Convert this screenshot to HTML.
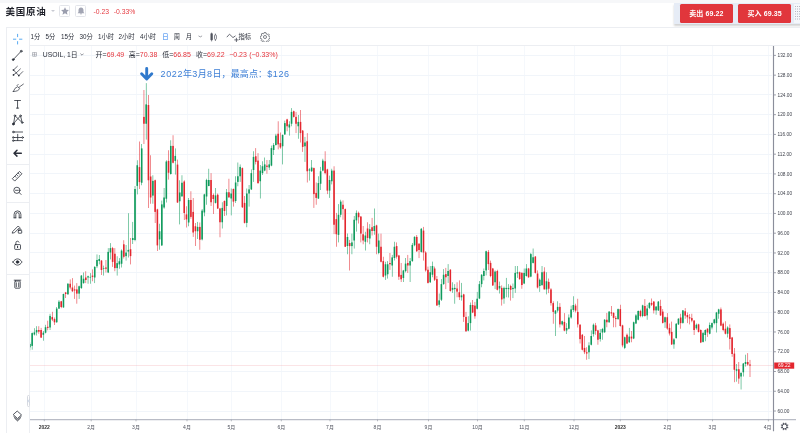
<!DOCTYPE html>
<html lang="zh-CN">
<head>
<meta charset="utf-8">
<title>美国原油</title>
<style>
*{box-sizing:border-box;margin:0;padding:0}
html,body{width:800px;height:433px;overflow:hidden;background:#fff}
body{position:relative;font-family:"Liberation Sans","Noto Sans CJK SC",sans-serif;color:#131722}
.abs{position:absolute}
.chart{position:absolute;left:0;top:0}
.topband{left:0;top:0;width:800px;height:2.8px;background:#f6f7f9}
.title{left:5.4px;top:5.3px;font-size:9.5px;line-height:14px;font-weight:bold;color:#1e2029;letter-spacing:0.75px}
.caret{left:50.9px;top:10.4px;width:0;height:0;border-left:2.9px solid transparent;border-right:2.9px solid transparent;border-top:2.6px solid #c9cbd3}
.sq{width:11.3px;height:12px;top:5.2px;border:0.8px solid #e3e5ea;border-radius:1.5px;background:#fff}
.chg{top:7px;font-size:6.8px;line-height:10px;color:#e53a40}
.frame-top{left:5.5px;top:27px;width:794.5px;height:1px;background:#eceef2}
.frame-left{left:5.5px;top:27px;width:1px;height:406px;background:#eceef2}
.lt-right{left:29px;top:27px;width:1px;height:406px;background:#eceef2}
.row-sep{left:29px;top:44.6px;width:771px;height:1px;background:#eceef2}
.iv{top:32.2px;font-size:6.3px;line-height:9px;color:#2a2e39}
.legend{top:49.5px;font-size:6.8px;line-height:9px;color:#2a2e39}
.red{color:#e5343b}
.lg{font-size:7px}
.panel{left:674.4px;top:2.8px;width:140px;height:21.7px;background:#e6ecf6;box-shadow:0 1.5px 2px rgba(0,0,0,0.18)}
.btn{top:4.2px;height:18.4px;background:#e1363c;border-radius:1.5px;color:#fff;font-size:7px;font-weight:bold;line-height:19.4px;text-align:center;letter-spacing:0.1px}
.grip{left:793.5px;top:4px;width:7px;height:19px;background:#f5f7fb}
.sep{left:6px;width:23px;height:1px;background:#eceef2}
</style>
</head>
<body>
<svg class="chart" width="800" height="433" viewBox="0 0 800 433"><g stroke="#f5f8fc" stroke-width="1" shape-rendering="crispEdges"><line x1="44.3" y1="45.5" x2="44.3" y2="419.5"/><line x1="91.2" y1="45.5" x2="91.2" y2="419.5"/><line x1="136.0" y1="45.5" x2="136.0" y2="419.5"/><line x1="187.0" y1="45.5" x2="187.0" y2="419.5"/><line x1="231.3" y1="45.5" x2="231.3" y2="419.5"/><line x1="281.3" y1="45.5" x2="281.3" y2="419.5"/><line x1="330.0" y1="45.5" x2="330.0" y2="419.5"/><line x1="377.5" y1="45.5" x2="377.5" y2="419.5"/><line x1="428.5" y1="45.5" x2="428.5" y2="419.5"/><line x1="477.5" y1="45.5" x2="477.5" y2="419.5"/><line x1="524.3" y1="45.5" x2="524.3" y2="419.5"/><line x1="574.0" y1="45.5" x2="574.0" y2="419.5"/><line x1="620.3" y1="45.5" x2="620.3" y2="419.5"/><line x1="667.5" y1="45.5" x2="667.5" y2="419.5"/><line x1="712.5" y1="45.5" x2="712.5" y2="419.5"/><line x1="768.4" y1="45.5" x2="768.4" y2="419.5"/></g><g stroke="#f1f5fa" stroke-width="1" shape-rendering="crispEdges"><line x1="29.5" y1="55.40" x2="772.0" y2="55.40"/><line x1="29.5" y1="75.16" x2="772.0" y2="75.16"/><line x1="29.5" y1="94.91" x2="772.0" y2="94.91"/><line x1="29.5" y1="114.67" x2="772.0" y2="114.67"/><line x1="29.5" y1="134.42" x2="772.0" y2="134.42"/><line x1="29.5" y1="154.18" x2="772.0" y2="154.18"/><line x1="29.5" y1="173.94" x2="772.0" y2="173.94"/><line x1="29.5" y1="193.69" x2="772.0" y2="193.69"/><line x1="29.5" y1="213.45" x2="772.0" y2="213.45"/><line x1="29.5" y1="233.20" x2="772.0" y2="233.20"/><line x1="29.5" y1="252.96" x2="772.0" y2="252.96"/><line x1="29.5" y1="272.72" x2="772.0" y2="272.72"/><line x1="29.5" y1="292.47" x2="772.0" y2="292.47"/><line x1="29.5" y1="312.23" x2="772.0" y2="312.23"/><line x1="29.5" y1="331.98" x2="772.0" y2="331.98"/><line x1="29.5" y1="351.74" x2="772.0" y2="351.74"/><line x1="29.5" y1="371.50" x2="772.0" y2="371.50"/><line x1="29.5" y1="391.25" x2="772.0" y2="391.25"/><line x1="29.5" y1="411.01" x2="772.0" y2="411.01"/></g><line x1="29.5" y1="365.5" x2="773.5" y2="365.5" stroke="#f08a90" stroke-width="0.6" stroke-dasharray="1 1" opacity="0.75"/><g fill="#0f9a5c" opacity="0.95"><rect x="29.62" y="342.40" width="0.56" height="8.00"/><rect x="31.86" y="332.40" width="0.56" height="17.30"/><rect x="34.09" y="328.20" width="0.56" height="7.30"/><rect x="36.33" y="326.20" width="0.56" height="9.30"/><rect x="43.04" y="331.00" width="0.56" height="9.70"/><rect x="45.27" y="324.80" width="0.56" height="8.60"/><rect x="49.75" y="313.80" width="0.56" height="16.20"/><rect x="56.46" y="307.00" width="0.56" height="15.70"/><rect x="58.69" y="300.10" width="0.56" height="8.90"/><rect x="63.17" y="293.60" width="0.56" height="14.20"/><rect x="67.64" y="283.10" width="0.56" height="11.30"/><rect x="78.82" y="285.60" width="0.56" height="13.30"/><rect x="81.06" y="275.00" width="0.56" height="13.75"/><rect x="83.29" y="272.50" width="0.56" height="11.25"/><rect x="87.76" y="275.60" width="0.56" height="8.15"/><rect x="90.00" y="273.10" width="0.56" height="10.65"/><rect x="94.47" y="266.25" width="0.56" height="16.85"/><rect x="96.71" y="254.40" width="0.56" height="13.70"/><rect x="98.95" y="255.00" width="0.56" height="9.40"/><rect x="103.42" y="265.60" width="0.56" height="10.00"/><rect x="107.89" y="248.10" width="0.56" height="25.00"/><rect x="110.13" y="243.10" width="0.56" height="16.30"/><rect x="116.84" y="256.25" width="0.56" height="19.35"/><rect x="119.07" y="258.10" width="0.56" height="10.65"/><rect x="121.31" y="249.40" width="0.56" height="18.10"/><rect x="125.78" y="245.00" width="0.56" height="15.60"/><rect x="128.02" y="213.20" width="0.56" height="44.30"/><rect x="132.49" y="221.90" width="0.56" height="22.10"/><rect x="134.73" y="186.00" width="0.56" height="55.25"/><rect x="136.96" y="160.25" width="0.56" height="34.15"/><rect x="141.44" y="144.00" width="0.56" height="41.25"/><rect x="145.91" y="83.10" width="0.56" height="56.50"/><rect x="152.62" y="175.25" width="0.56" height="28.50"/><rect x="159.33" y="223.75" width="0.56" height="26.00"/><rect x="161.56" y="200.60" width="0.56" height="45.40"/><rect x="163.80" y="188.00" width="0.56" height="20.75"/><rect x="166.04" y="160.25" width="0.56" height="42.25"/><rect x="170.51" y="140.25" width="0.56" height="34.35"/><rect x="174.98" y="148.40" width="0.56" height="26.20"/><rect x="179.45" y="180.25" width="0.56" height="44.15"/><rect x="181.69" y="175.25" width="0.56" height="21.75"/><rect x="188.40" y="198.00" width="0.56" height="28.25"/><rect x="197.35" y="221.90" width="0.56" height="17.10"/><rect x="201.82" y="209.00" width="0.56" height="31.40"/><rect x="204.05" y="193.75" width="0.56" height="22.50"/><rect x="206.29" y="178.75" width="0.56" height="26.00"/><rect x="208.53" y="168.75" width="0.56" height="17.50"/><rect x="215.24" y="188.00" width="0.56" height="15.50"/><rect x="221.94" y="202.25" width="0.56" height="26.25"/><rect x="226.42" y="189.00" width="0.56" height="26.40"/><rect x="230.89" y="188.50" width="0.56" height="26.90"/><rect x="235.36" y="176.25" width="0.56" height="26.65"/><rect x="237.60" y="162.50" width="0.56" height="23.75"/><rect x="239.84" y="164.40" width="0.56" height="17.50"/><rect x="246.54" y="188.50" width="0.56" height="38.75"/><rect x="248.78" y="185.00" width="0.56" height="21.60"/><rect x="251.02" y="169.40" width="0.56" height="20.60"/><rect x="253.25" y="151.25" width="0.56" height="30.65"/><rect x="259.96" y="165.00" width="0.56" height="33.50"/><rect x="262.20" y="161.25" width="0.56" height="13.75"/><rect x="264.44" y="157.50" width="0.56" height="13.75"/><rect x="268.91" y="160.00" width="0.56" height="10.00"/><rect x="271.14" y="145.60" width="0.56" height="20.65"/><rect x="273.38" y="143.10" width="0.56" height="11.90"/><rect x="275.62" y="133.75" width="0.56" height="11.85"/><rect x="282.33" y="134.40" width="0.56" height="30.00"/><rect x="284.56" y="120.60" width="0.56" height="14.40"/><rect x="289.03" y="121.25" width="0.56" height="14.35"/><rect x="291.27" y="108.10" width="0.56" height="18.15"/><rect x="297.98" y="115.00" width="0.56" height="23.75"/><rect x="304.69" y="136.90" width="0.56" height="25.00"/><rect x="309.16" y="168.10" width="0.56" height="12.50"/><rect x="311.40" y="160.00" width="0.56" height="11.90"/><rect x="318.11" y="176.25" width="0.56" height="22.75"/><rect x="320.34" y="166.90" width="0.56" height="23.10"/><rect x="322.58" y="158.75" width="0.56" height="12.50"/><rect x="329.29" y="175.60" width="0.56" height="22.30"/><rect x="331.53" y="168.75" width="0.56" height="15.65"/><rect x="338.23" y="204.10" width="0.56" height="38.30"/><rect x="340.47" y="199.75" width="0.56" height="17.50"/><rect x="347.18" y="233.50" width="0.56" height="20.75"/><rect x="351.65" y="233.60" width="0.56" height="20.65"/><rect x="353.89" y="216.00" width="0.56" height="32.60"/><rect x="356.12" y="210.40" width="0.56" height="21.20"/><rect x="365.07" y="231.75" width="0.56" height="18.75"/><rect x="369.54" y="224.10" width="0.56" height="20.15"/><rect x="374.02" y="208.50" width="0.56" height="26.25"/><rect x="378.49" y="233.60" width="0.56" height="20.65"/><rect x="385.20" y="261.75" width="0.56" height="18.15"/><rect x="387.43" y="261.10" width="0.56" height="17.50"/><rect x="391.91" y="254.90" width="0.56" height="21.85"/><rect x="394.14" y="241.75" width="0.56" height="18.75"/><rect x="403.09" y="269.90" width="0.56" height="12.10"/><rect x="405.32" y="258.00" width="0.56" height="14.40"/><rect x="409.80" y="258.00" width="0.56" height="24.00"/><rect x="412.03" y="243.00" width="0.56" height="18.75"/><rect x="414.27" y="236.25" width="0.56" height="10.00"/><rect x="420.98" y="228.10" width="0.56" height="24.40"/><rect x="429.92" y="266.00" width="0.56" height="16.90"/><rect x="432.16" y="261.60" width="0.56" height="15.65"/><rect x="438.87" y="293.50" width="0.56" height="13.75"/><rect x="441.11" y="279.10" width="0.56" height="21.90"/><rect x="443.34" y="269.10" width="0.56" height="15.65"/><rect x="447.81" y="264.10" width="0.56" height="18.80"/><rect x="452.29" y="282.25" width="0.56" height="10.65"/><rect x="454.52" y="284.10" width="0.56" height="19.65"/><rect x="461.23" y="282.90" width="0.56" height="17.70"/><rect x="467.94" y="316.25" width="0.56" height="15.00"/><rect x="470.18" y="302.50" width="0.56" height="28.10"/><rect x="476.89" y="291.90" width="0.56" height="17.50"/><rect x="479.12" y="281.00" width="0.56" height="18.10"/><rect x="481.36" y="274.10" width="0.56" height="13.15"/><rect x="483.60" y="268.50" width="0.56" height="11.90"/><rect x="485.83" y="250.60" width="0.56" height="24.80"/><rect x="494.78" y="270.40" width="0.56" height="18.70"/><rect x="499.25" y="281.60" width="0.56" height="11.90"/><rect x="503.72" y="286.60" width="0.56" height="17.15"/><rect x="505.96" y="277.90" width="0.56" height="19.35"/><rect x="508.20" y="284.10" width="0.56" height="13.40"/><rect x="512.67" y="283.50" width="0.56" height="14.60"/><rect x="514.90" y="266.00" width="0.56" height="26.90"/><rect x="517.14" y="266.00" width="0.56" height="11.90"/><rect x="523.85" y="268.50" width="0.56" height="15.60"/><rect x="526.09" y="264.10" width="0.56" height="12.50"/><rect x="530.56" y="252.90" width="0.56" height="24.35"/><rect x="532.80" y="248.50" width="0.56" height="15.00"/><rect x="539.50" y="278.50" width="0.56" height="13.40"/><rect x="541.74" y="266.00" width="0.56" height="20.00"/><rect x="546.21" y="272.25" width="0.56" height="22.15"/><rect x="555.16" y="310.00" width="0.56" height="26.00"/><rect x="557.40" y="301.25" width="0.56" height="11.25"/><rect x="561.87" y="320.60" width="0.56" height="5.00"/><rect x="566.34" y="323.10" width="0.56" height="10.90"/><rect x="568.58" y="314.40" width="0.56" height="15.00"/><rect x="570.81" y="305.60" width="0.56" height="13.15"/><rect x="573.05" y="296.25" width="0.56" height="15.65"/><rect x="588.70" y="342.25" width="0.56" height="16.85"/><rect x="590.94" y="330.40" width="0.56" height="15.00"/><rect x="593.18" y="323.50" width="0.56" height="13.10"/><rect x="599.89" y="329.10" width="0.56" height="12.50"/><rect x="602.12" y="327.90" width="0.56" height="11.85"/><rect x="604.36" y="319.10" width="0.56" height="13.80"/><rect x="608.83" y="311.00" width="0.56" height="11.90"/><rect x="617.78" y="308.50" width="0.56" height="11.25"/><rect x="624.49" y="336.60" width="0.56" height="12.50"/><rect x="628.96" y="327.90" width="0.56" height="15.00"/><rect x="633.43" y="321.60" width="0.56" height="17.50"/><rect x="635.67" y="314.10" width="0.56" height="10.00"/><rect x="637.90" y="310.40" width="0.56" height="10.00"/><rect x="642.38" y="304.75" width="0.56" height="12.50"/><rect x="646.85" y="304.75" width="0.56" height="15.00"/><rect x="649.08" y="302.25" width="0.56" height="6.85"/><rect x="655.79" y="306.00" width="0.56" height="8.75"/><rect x="658.03" y="301.00" width="0.56" height="10.00"/><rect x="664.74" y="316.60" width="0.56" height="11.30"/><rect x="673.68" y="338.10" width="0.56" height="10.65"/><rect x="675.92" y="323.10" width="0.56" height="15.50"/><rect x="678.16" y="318.10" width="0.56" height="6.90"/><rect x="682.63" y="310.00" width="0.56" height="13.75"/><rect x="696.05" y="323.50" width="0.56" height="6.25"/><rect x="702.76" y="331.90" width="0.56" height="10.60"/><rect x="704.99" y="329.40" width="0.56" height="11.85"/><rect x="709.47" y="322.50" width="0.56" height="11.90"/><rect x="711.70" y="322.50" width="0.56" height="6.90"/><rect x="713.94" y="318.75" width="0.56" height="5.65"/><rect x="716.17" y="311.90" width="0.56" height="20.60"/><rect x="718.41" y="308.75" width="0.56" height="10.00"/><rect x="727.36" y="326.25" width="0.56" height="11.25"/><rect x="736.30" y="364.00" width="0.56" height="17.70"/><rect x="740.77" y="372.30" width="0.56" height="17.20"/><rect x="743.01" y="363.00" width="0.56" height="13.50"/><rect x="745.25" y="354.70" width="0.56" height="11.90"/></g><g fill="#e3262e" opacity="0.95"><rect x="38.57" y="326.20" width="0.56" height="7.60"/><rect x="40.80" y="327.90" width="0.56" height="10.00"/><rect x="47.51" y="320.70" width="0.56" height="9.60"/><rect x="51.98" y="311.80" width="0.56" height="9.30"/><rect x="54.22" y="317.50" width="0.56" height="7.50"/><rect x="60.93" y="300.90" width="0.56" height="7.30"/><rect x="65.40" y="291.90" width="0.56" height="6.10"/><rect x="69.87" y="279.40" width="0.56" height="10.00"/><rect x="72.11" y="278.10" width="0.56" height="13.80"/><rect x="74.35" y="285.60" width="0.56" height="13.30"/><rect x="76.58" y="283.10" width="0.56" height="20.60"/><rect x="85.53" y="271.25" width="0.56" height="11.85"/><rect x="92.24" y="269.40" width="0.56" height="11.85"/><rect x="101.18" y="260.00" width="0.56" height="15.00"/><rect x="105.66" y="260.00" width="0.56" height="12.50"/><rect x="112.36" y="246.90" width="0.56" height="20.00"/><rect x="114.60" y="248.10" width="0.56" height="23.15"/><rect x="123.55" y="240.20" width="0.56" height="18.30"/><rect x="130.26" y="238.00" width="0.56" height="26.40"/><rect x="139.20" y="141.50" width="0.56" height="47.50"/><rect x="143.67" y="90.00" width="0.56" height="54.00"/><rect x="148.15" y="95.00" width="0.56" height="113.00"/><rect x="150.38" y="155.25" width="0.56" height="48.50"/><rect x="154.85" y="179.60" width="0.56" height="43.40"/><rect x="157.09" y="208.75" width="0.56" height="42.25"/><rect x="168.27" y="150.25" width="0.56" height="29.35"/><rect x="172.75" y="135.25" width="0.56" height="28.15"/><rect x="177.22" y="159.60" width="0.56" height="43.40"/><rect x="183.93" y="180.25" width="0.56" height="39.75"/><rect x="186.16" y="206.25" width="0.56" height="21.25"/><rect x="190.64" y="191.25" width="0.56" height="27.50"/><rect x="192.87" y="198.00" width="0.56" height="38.90"/><rect x="195.11" y="223.00" width="0.56" height="23.00"/><rect x="199.58" y="222.50" width="0.56" height="27.25"/><rect x="210.76" y="173.10" width="0.56" height="32.90"/><rect x="213.00" y="193.50" width="0.56" height="20.50"/><rect x="217.47" y="193.50" width="0.56" height="15.50"/><rect x="219.71" y="207.90" width="0.56" height="29.35"/><rect x="224.18" y="200.40" width="0.56" height="15.60"/><rect x="228.65" y="178.75" width="0.56" height="19.25"/><rect x="233.13" y="188.50" width="0.56" height="18.10"/><rect x="242.07" y="167.50" width="0.56" height="40.50"/><rect x="244.31" y="196.00" width="0.56" height="27.50"/><rect x="255.49" y="148.10" width="0.56" height="16.30"/><rect x="257.73" y="153.10" width="0.56" height="30.65"/><rect x="266.67" y="160.00" width="0.56" height="13.75"/><rect x="277.85" y="121.25" width="0.56" height="28.15"/><rect x="280.09" y="132.50" width="0.56" height="16.25"/><rect x="286.80" y="118.75" width="0.56" height="12.50"/><rect x="293.51" y="110.60" width="0.56" height="6.90"/><rect x="295.74" y="111.90" width="0.56" height="21.20"/><rect x="300.22" y="110.00" width="0.56" height="32.50"/><rect x="302.45" y="130.00" width="0.56" height="21.90"/><rect x="306.93" y="133.10" width="0.56" height="49.40"/><rect x="313.63" y="167.50" width="0.56" height="40.40"/><rect x="315.87" y="182.50" width="0.56" height="22.25"/><rect x="324.82" y="151.25" width="0.56" height="23.15"/><rect x="327.05" y="168.75" width="0.56" height="25.35"/><rect x="333.76" y="166.25" width="0.56" height="67.85"/><rect x="336.00" y="212.90" width="0.56" height="33.85"/><rect x="342.71" y="200.40" width="0.56" height="19.35"/><rect x="344.94" y="208.50" width="0.56" height="38.50"/><rect x="349.42" y="239.90" width="0.56" height="30.60"/><rect x="358.36" y="211.60" width="0.56" height="11.90"/><rect x="360.60" y="216.00" width="0.56" height="26.40"/><rect x="362.83" y="226.00" width="0.56" height="18.25"/><rect x="367.31" y="222.25" width="0.56" height="20.15"/><rect x="371.78" y="217.90" width="0.56" height="17.60"/><rect x="376.25" y="224.75" width="0.56" height="29.50"/><rect x="380.72" y="233.60" width="0.56" height="28.80"/><rect x="382.96" y="256.75" width="0.56" height="20.65"/><rect x="389.67" y="253.00" width="0.56" height="16.90"/><rect x="396.38" y="242.40" width="0.56" height="16.20"/><rect x="398.62" y="254.90" width="0.56" height="25.00"/><rect x="400.85" y="263.00" width="0.56" height="19.00"/><rect x="407.56" y="254.90" width="0.56" height="18.10"/><rect x="416.51" y="235.00" width="0.56" height="16.90"/><rect x="418.74" y="243.10" width="0.56" height="15.00"/><rect x="423.22" y="226.90" width="0.56" height="33.70"/><rect x="425.45" y="251.25" width="0.56" height="20.35"/><rect x="427.69" y="266.60" width="0.56" height="16.90"/><rect x="434.40" y="266.60" width="0.56" height="14.40"/><rect x="436.63" y="276.00" width="0.56" height="30.00"/><rect x="445.58" y="267.90" width="0.56" height="21.20"/><rect x="450.05" y="269.10" width="0.56" height="22.50"/><rect x="456.76" y="282.25" width="0.56" height="15.00"/><rect x="459.00" y="280.40" width="0.56" height="19.60"/><rect x="463.47" y="293.75" width="0.56" height="28.15"/><rect x="465.71" y="311.90" width="0.56" height="20.00"/><rect x="472.41" y="300.00" width="0.56" height="13.10"/><rect x="474.65" y="301.90" width="0.56" height="16.85"/><rect x="488.07" y="250.00" width="0.56" height="20.00"/><rect x="490.31" y="260.60" width="0.56" height="16.65"/><rect x="492.54" y="267.90" width="0.56" height="18.10"/><rect x="497.01" y="269.75" width="0.56" height="20.65"/><rect x="501.49" y="285.40" width="0.56" height="20.20"/><rect x="510.43" y="284.75" width="0.56" height="15.85"/><rect x="519.38" y="271.60" width="0.56" height="8.15"/><rect x="521.61" y="272.25" width="0.56" height="16.50"/><rect x="528.32" y="267.90" width="0.56" height="10.00"/><rect x="535.03" y="256.00" width="0.56" height="17.50"/><rect x="537.27" y="270.40" width="0.56" height="18.10"/><rect x="543.98" y="267.25" width="0.56" height="22.15"/><rect x="548.45" y="278.50" width="0.56" height="14.60"/><rect x="550.69" y="288.10" width="0.56" height="17.50"/><rect x="552.92" y="301.25" width="0.56" height="22.50"/><rect x="559.63" y="303.10" width="0.56" height="24.40"/><rect x="564.10" y="313.10" width="0.56" height="18.15"/><rect x="575.29" y="303.75" width="0.56" height="8.75"/><rect x="577.52" y="298.75" width="0.56" height="28.75"/><rect x="579.76" y="324.10" width="0.56" height="19.40"/><rect x="581.99" y="334.10" width="0.56" height="16.30"/><rect x="584.23" y="336.00" width="0.56" height="18.10"/><rect x="586.47" y="347.25" width="0.56" height="12.50"/><rect x="595.41" y="322.90" width="0.56" height="11.85"/><rect x="597.65" y="329.75" width="0.56" height="15.00"/><rect x="606.59" y="312.90" width="0.56" height="14.35"/><rect x="611.07" y="306.00" width="0.56" height="10.00"/><rect x="613.30" y="312.25" width="0.56" height="15.00"/><rect x="615.54" y="316.00" width="0.56" height="11.25"/><rect x="620.01" y="304.75" width="0.56" height="21.85"/><rect x="622.25" y="324.75" width="0.56" height="22.50"/><rect x="626.72" y="333.50" width="0.56" height="10.60"/><rect x="631.19" y="331.00" width="0.56" height="11.25"/><rect x="640.14" y="309.75" width="0.56" height="7.50"/><rect x="644.61" y="299.10" width="0.56" height="17.50"/><rect x="651.32" y="298.50" width="0.56" height="7.50"/><rect x="653.56" y="301.00" width="0.56" height="12.50"/><rect x="660.27" y="299.75" width="0.56" height="16.25"/><rect x="662.50" y="309.10" width="0.56" height="14.40"/><rect x="666.98" y="313.10" width="0.56" height="16.65"/><rect x="669.21" y="323.50" width="0.56" height="12.00"/><rect x="671.45" y="321.60" width="0.56" height="23.40"/><rect x="680.39" y="313.75" width="0.56" height="15.00"/><rect x="684.87" y="308.10" width="0.56" height="10.65"/><rect x="687.10" y="312.50" width="0.56" height="10.60"/><rect x="689.34" y="314.10" width="0.56" height="10.30"/><rect x="691.58" y="313.75" width="0.56" height="8.50"/><rect x="693.81" y="320.00" width="0.56" height="15.00"/><rect x="698.28" y="323.75" width="0.56" height="8.75"/><rect x="700.52" y="329.40" width="0.56" height="13.70"/><rect x="707.23" y="328.10" width="0.56" height="8.80"/><rect x="720.65" y="307.50" width="0.56" height="18.75"/><rect x="722.88" y="322.50" width="0.56" height="8.75"/><rect x="725.12" y="321.25" width="0.56" height="13.15"/><rect x="729.59" y="324.40" width="0.56" height="25.10"/><rect x="731.83" y="336.90" width="0.56" height="19.90"/><rect x="734.07" y="348.00" width="0.56" height="34.20"/><rect x="738.54" y="362.00" width="0.56" height="21.80"/><rect x="747.48" y="353.10" width="0.56" height="12.50"/><rect x="749.72" y="359.90" width="0.56" height="17.10"/></g><g fill="#0f9a5c"><rect x="29.10" y="344.00" width="1.6" height="3.30"/><rect x="31.34" y="333.10" width="1.6" height="12.80"/><rect x="33.57" y="332.40" width="1.6" height="2.10"/><rect x="35.81" y="330.00" width="1.6" height="2.40"/><rect x="42.52" y="332.70" width="1.6" height="2.10"/><rect x="44.75" y="327.20" width="1.6" height="5.50"/><rect x="49.23" y="315.90" width="1.6" height="11.60"/><rect x="55.94" y="308.60" width="1.6" height="13.70"/><rect x="58.17" y="301.70" width="1.6" height="6.90"/><rect x="62.65" y="294.00" width="1.6" height="13.40"/><rect x="67.12" y="283.75" width="1.6" height="10.65"/><rect x="78.30" y="286.25" width="1.6" height="7.35"/><rect x="80.54" y="275.60" width="1.6" height="12.50"/><rect x="82.77" y="278.75" width="1.6" height="4.35"/><rect x="87.24" y="276.25" width="1.6" height="1.25"/><rect x="89.48" y="276.90" width="1.6" height="0.60"/><rect x="93.95" y="266.90" width="1.6" height="10.60"/><rect x="96.19" y="260.00" width="1.6" height="6.25"/><rect x="98.43" y="259.00" width="1.6" height="2.00"/><rect x="102.90" y="268.10" width="1.6" height="0.65"/><rect x="107.37" y="251.90" width="1.6" height="20.60"/><rect x="109.61" y="248.10" width="1.6" height="4.40"/><rect x="116.32" y="263.10" width="1.6" height="5.00"/><rect x="118.55" y="261.25" width="1.6" height="3.15"/><rect x="120.79" y="250.60" width="1.6" height="13.15"/><rect x="125.26" y="252.60" width="1.6" height="3.50"/><rect x="127.50" y="249.90" width="1.6" height="1.70"/><rect x="131.97" y="238.00" width="1.6" height="2.00"/><rect x="134.21" y="189.00" width="1.6" height="51.00"/><rect x="136.44" y="165.25" width="1.6" height="20.65"/><rect x="140.92" y="148.40" width="1.6" height="34.35"/><rect x="145.39" y="104.40" width="1.6" height="19.35"/><rect x="152.10" y="180.90" width="1.6" height="14.70"/><rect x="158.81" y="231.25" width="1.6" height="8.15"/><rect x="161.04" y="204.40" width="1.6" height="41.00"/><rect x="163.28" y="197.50" width="1.6" height="10.00"/><rect x="165.52" y="161.50" width="1.6" height="37.25"/><rect x="169.99" y="145.90" width="1.6" height="28.10"/><rect x="174.46" y="155.90" width="1.6" height="5.00"/><rect x="178.93" y="192.50" width="1.6" height="8.75"/><rect x="181.17" y="182.75" width="1.6" height="13.50"/><rect x="187.88" y="200.00" width="1.6" height="22.50"/><rect x="196.83" y="226.90" width="1.6" height="4.35"/><rect x="201.30" y="210.60" width="1.6" height="28.80"/><rect x="203.53" y="194.40" width="1.6" height="18.10"/><rect x="205.77" y="180.00" width="1.6" height="16.50"/><rect x="208.01" y="180.00" width="1.6" height="6.00"/><rect x="214.72" y="195.40" width="1.6" height="7.50"/><rect x="221.42" y="207.90" width="1.6" height="14.35"/><rect x="225.90" y="192.25" width="1.6" height="13.75"/><rect x="230.37" y="193.50" width="1.6" height="5.00"/><rect x="234.84" y="182.50" width="1.6" height="18.50"/><rect x="237.08" y="176.25" width="1.6" height="5.65"/><rect x="239.32" y="166.90" width="1.6" height="9.35"/><rect x="246.02" y="193.50" width="1.6" height="29.40"/><rect x="248.26" y="189.40" width="1.6" height="4.10"/><rect x="250.50" y="173.10" width="1.6" height="16.30"/><rect x="252.73" y="156.90" width="1.6" height="13.10"/><rect x="259.44" y="170.60" width="1.6" height="10.65"/><rect x="261.68" y="166.25" width="1.6" height="6.85"/><rect x="263.92" y="164.40" width="1.6" height="6.20"/><rect x="268.39" y="164.40" width="1.6" height="3.10"/><rect x="270.62" y="148.10" width="1.6" height="17.50"/><rect x="272.86" y="145.00" width="1.6" height="5.00"/><rect x="275.10" y="135.60" width="1.6" height="9.40"/><rect x="281.81" y="135.00" width="1.6" height="11.25"/><rect x="284.04" y="123.10" width="1.6" height="11.30"/><rect x="288.51" y="124.40" width="1.6" height="3.10"/><rect x="290.75" y="111.90" width="1.6" height="11.85"/><rect x="297.46" y="121.90" width="1.6" height="4.35"/><rect x="304.17" y="142.50" width="1.6" height="3.75"/><rect x="308.64" y="169.40" width="1.6" height="1.20"/><rect x="310.88" y="167.50" width="1.6" height="3.75"/><rect x="317.59" y="183.10" width="1.6" height="15.40"/><rect x="319.82" y="171.25" width="1.6" height="12.50"/><rect x="322.06" y="160.60" width="1.6" height="10.00"/><rect x="328.77" y="180.00" width="1.6" height="10.60"/><rect x="331.01" y="170.60" width="1.6" height="10.65"/><rect x="337.71" y="214.75" width="1.6" height="20.15"/><rect x="339.95" y="201.60" width="1.6" height="13.15"/><rect x="346.66" y="237.00" width="1.6" height="9.00"/><rect x="351.13" y="242.40" width="1.6" height="3.70"/><rect x="353.37" y="219.75" width="1.6" height="20.75"/><rect x="355.60" y="212.90" width="1.6" height="7.50"/><rect x="364.55" y="235.50" width="1.6" height="6.25"/><rect x="369.02" y="229.25" width="1.6" height="9.25"/><rect x="373.50" y="226.00" width="1.6" height="5.00"/><rect x="377.97" y="240.50" width="1.6" height="12.50"/><rect x="384.68" y="264.25" width="1.6" height="11.25"/><rect x="386.91" y="264.25" width="1.6" height="10.00"/><rect x="391.39" y="257.40" width="1.6" height="8.10"/><rect x="393.62" y="246.75" width="1.6" height="11.25"/><rect x="402.57" y="270.50" width="1.6" height="7.50"/><rect x="404.80" y="263.60" width="1.6" height="7.50"/><rect x="409.28" y="261.10" width="1.6" height="4.40"/><rect x="411.51" y="244.90" width="1.6" height="16.20"/><rect x="413.75" y="236.90" width="1.6" height="8.35"/><rect x="420.46" y="228.75" width="1.6" height="23.15"/><rect x="429.40" y="272.25" width="1.6" height="10.00"/><rect x="431.64" y="266.00" width="1.6" height="8.75"/><rect x="438.35" y="300.40" width="1.6" height="4.35"/><rect x="440.59" y="284.10" width="1.6" height="15.65"/><rect x="442.82" y="274.75" width="1.6" height="9.35"/><rect x="447.29" y="271.00" width="1.6" height="5.00"/><rect x="451.77" y="287.90" width="1.6" height="1.85"/><rect x="454.00" y="287.90" width="1.6" height="1.20"/><rect x="460.71" y="295.40" width="1.6" height="1.85"/><rect x="467.42" y="323.10" width="1.6" height="7.50"/><rect x="469.66" y="305.00" width="1.6" height="18.10"/><rect x="476.37" y="298.75" width="1.6" height="10.00"/><rect x="478.60" y="284.10" width="1.6" height="14.40"/><rect x="480.84" y="274.75" width="1.6" height="9.35"/><rect x="483.08" y="271.00" width="1.6" height="5.00"/><rect x="485.31" y="251.25" width="1.6" height="19.15"/><rect x="494.26" y="271.60" width="1.6" height="10.65"/><rect x="498.73" y="286.00" width="1.6" height="2.50"/><rect x="503.20" y="287.90" width="1.6" height="10.60"/><rect x="505.44" y="287.90" width="1.6" height="1.20"/><rect x="507.68" y="287.90" width="1.6" height="1.20"/><rect x="512.15" y="287.90" width="1.6" height="1.20"/><rect x="514.38" y="272.90" width="1.6" height="15.60"/><rect x="516.62" y="272.25" width="1.6" height="1.25"/><rect x="523.33" y="272.90" width="1.6" height="10.60"/><rect x="525.57" y="268.50" width="1.6" height="7.50"/><rect x="530.04" y="254.10" width="1.6" height="22.50"/><rect x="532.28" y="257.25" width="1.6" height="5.65"/><rect x="538.98" y="279.75" width="1.6" height="6.25"/><rect x="541.22" y="272.25" width="1.6" height="12.75"/><rect x="545.69" y="281.25" width="1.6" height="8.15"/><rect x="554.64" y="310.60" width="1.6" height="3.15"/><rect x="556.88" y="306.90" width="1.6" height="3.70"/><rect x="561.35" y="321.25" width="1.6" height="3.15"/><rect x="565.82" y="328.00" width="1.6" height="2.50"/><rect x="568.06" y="317.50" width="1.6" height="11.25"/><rect x="570.29" y="309.40" width="1.6" height="8.10"/><rect x="572.53" y="305.00" width="1.6" height="5.00"/><rect x="588.18" y="345.40" width="1.6" height="6.85"/><rect x="590.42" y="336.00" width="1.6" height="8.75"/><rect x="592.66" y="324.75" width="1.6" height="9.35"/><rect x="599.37" y="332.90" width="1.6" height="6.20"/><rect x="601.60" y="329.00" width="1.6" height="3.50"/><rect x="603.84" y="319.75" width="1.6" height="12.50"/><rect x="608.31" y="311.60" width="1.6" height="10.65"/><rect x="617.26" y="309.10" width="1.6" height="10.00"/><rect x="623.97" y="337.25" width="1.6" height="10.65"/><rect x="628.44" y="336.60" width="1.6" height="5.65"/><rect x="632.91" y="322.25" width="1.6" height="16.25"/><rect x="635.15" y="315.40" width="1.6" height="8.10"/><rect x="637.38" y="311.00" width="1.6" height="8.75"/><rect x="641.86" y="305.40" width="1.6" height="10.60"/><rect x="646.33" y="308.50" width="1.6" height="6.90"/><rect x="648.56" y="302.90" width="1.6" height="5.00"/><rect x="655.27" y="306.60" width="1.6" height="3.80"/><rect x="657.51" y="301.60" width="1.6" height="8.80"/><rect x="664.22" y="317.25" width="1.6" height="5.00"/><rect x="673.16" y="339.40" width="1.6" height="5.00"/><rect x="675.40" y="323.75" width="1.6" height="14.35"/><rect x="677.64" y="318.75" width="1.6" height="5.65"/><rect x="682.11" y="310.40" width="1.6" height="12.50"/><rect x="695.53" y="324.75" width="1.6" height="3.55"/><rect x="702.24" y="333.10" width="1.6" height="8.80"/><rect x="704.47" y="330.00" width="1.6" height="5.00"/><rect x="708.95" y="325.00" width="1.6" height="8.75"/><rect x="711.18" y="323.10" width="1.6" height="4.40"/><rect x="713.42" y="319.40" width="1.6" height="3.70"/><rect x="715.65" y="312.50" width="1.6" height="10.60"/><rect x="717.89" y="309.40" width="1.6" height="4.35"/><rect x="726.84" y="327.50" width="1.6" height="6.25"/><rect x="735.78" y="369.20" width="1.6" height="1.60"/><rect x="740.25" y="372.90" width="1.6" height="3.60"/><rect x="742.49" y="363.50" width="1.6" height="8.80"/><rect x="744.73" y="362.00" width="1.6" height="2.00"/></g><g fill="#e3262e"><rect x="38.05" y="330.00" width="1.6" height="1.70"/><rect x="40.28" y="330.00" width="1.6" height="7.60"/><rect x="46.99" y="326.80" width="1.6" height="1.10"/><rect x="51.46" y="317.10" width="1.6" height="2.40"/><rect x="53.70" y="319.10" width="1.6" height="3.20"/><rect x="60.41" y="301.30" width="1.6" height="5.70"/><rect x="64.88" y="292.50" width="1.6" height="1.50"/><rect x="69.35" y="283.75" width="1.6" height="3.75"/><rect x="71.59" y="287.50" width="1.6" height="3.75"/><rect x="73.83" y="289.40" width="1.6" height="1.10"/><rect x="76.06" y="289.40" width="1.6" height="4.20"/><rect x="85.01" y="277.50" width="1.6" height="2.50"/><rect x="91.72" y="275.60" width="1.6" height="1.30"/><rect x="100.66" y="260.60" width="1.6" height="9.40"/><rect x="105.14" y="267.50" width="1.6" height="1.25"/><rect x="111.84" y="248.10" width="1.6" height="13.80"/><rect x="114.08" y="253.75" width="1.6" height="14.35"/><rect x="123.03" y="244.30" width="1.6" height="12.50"/><rect x="129.74" y="249.20" width="1.6" height="6.90"/><rect x="138.68" y="167.10" width="1.6" height="15.00"/><rect x="143.15" y="116.90" width="1.6" height="6.85"/><rect x="147.63" y="105.00" width="1.6" height="75.25"/><rect x="149.86" y="176.50" width="1.6" height="21.00"/><rect x="154.33" y="180.25" width="1.6" height="31.65"/><rect x="156.57" y="209.40" width="1.6" height="36.00"/><rect x="167.75" y="160.90" width="1.6" height="11.85"/><rect x="172.23" y="145.90" width="1.6" height="16.85"/><rect x="176.70" y="164.60" width="1.6" height="37.90"/><rect x="183.41" y="181.50" width="1.6" height="31.50"/><rect x="185.64" y="214.40" width="1.6" height="5.00"/><rect x="190.12" y="200.00" width="1.6" height="16.90"/><rect x="192.35" y="211.90" width="1.6" height="20.60"/><rect x="194.59" y="226.25" width="1.6" height="5.00"/><rect x="199.06" y="226.90" width="1.6" height="12.85"/><rect x="210.24" y="180.00" width="1.6" height="22.25"/><rect x="212.48" y="195.00" width="1.6" height="4.00"/><rect x="216.95" y="194.75" width="1.6" height="13.75"/><rect x="219.19" y="208.50" width="1.6" height="13.75"/><rect x="223.66" y="201.00" width="1.6" height="10.00"/><rect x="228.13" y="192.25" width="1.6" height="5.00"/><rect x="232.61" y="189.00" width="1.6" height="12.60"/><rect x="241.55" y="168.10" width="1.6" height="39.15"/><rect x="243.79" y="202.90" width="1.6" height="20.00"/><rect x="254.97" y="156.25" width="1.6" height="5.65"/><rect x="257.21" y="160.60" width="1.6" height="22.50"/><rect x="266.15" y="165.60" width="1.6" height="1.30"/><rect x="277.33" y="133.75" width="1.6" height="10.65"/><rect x="279.57" y="143.10" width="1.6" height="4.40"/><rect x="286.28" y="119.40" width="1.6" height="6.85"/><rect x="292.99" y="111.25" width="1.6" height="5.65"/><rect x="295.22" y="116.90" width="1.6" height="6.85"/><rect x="299.70" y="121.90" width="1.6" height="11.20"/><rect x="301.93" y="130.60" width="1.6" height="16.30"/><rect x="306.41" y="141.25" width="1.6" height="30.00"/><rect x="313.11" y="168.10" width="1.6" height="26.00"/><rect x="315.35" y="192.90" width="1.6" height="5.00"/><rect x="324.30" y="161.25" width="1.6" height="11.85"/><rect x="326.53" y="169.40" width="1.6" height="21.20"/><rect x="333.24" y="170.60" width="1.6" height="54.15"/><rect x="335.48" y="219.10" width="1.6" height="15.15"/><rect x="342.19" y="204.75" width="1.6" height="4.35"/><rect x="344.42" y="209.10" width="1.6" height="37.65"/><rect x="348.90" y="243.00" width="1.6" height="3.10"/><rect x="357.84" y="212.90" width="1.6" height="4.35"/><rect x="360.08" y="216.60" width="1.6" height="17.00"/><rect x="362.31" y="234.25" width="1.6" height="6.25"/><rect x="366.79" y="228.50" width="1.6" height="9.50"/><rect x="371.26" y="227.25" width="1.6" height="3.75"/><rect x="375.73" y="225.40" width="1.6" height="21.35"/><rect x="380.20" y="246.75" width="1.6" height="15.00"/><rect x="382.44" y="261.10" width="1.6" height="15.65"/><rect x="389.15" y="263.00" width="1.6" height="1.25"/><rect x="395.86" y="246.10" width="1.6" height="10.65"/><rect x="398.10" y="255.50" width="1.6" height="21.25"/><rect x="400.33" y="274.90" width="1.6" height="4.35"/><rect x="407.04" y="263.00" width="1.6" height="2.50"/><rect x="415.99" y="236.90" width="1.6" height="14.35"/><rect x="418.22" y="243.75" width="1.6" height="6.25"/><rect x="422.70" y="230.60" width="1.6" height="21.90"/><rect x="424.93" y="252.50" width="1.6" height="17.90"/><rect x="427.17" y="269.75" width="1.6" height="13.15"/><rect x="433.88" y="268.50" width="1.6" height="11.25"/><rect x="436.11" y="279.10" width="1.6" height="26.30"/><rect x="445.06" y="274.10" width="1.6" height="3.15"/><rect x="449.53" y="269.75" width="1.6" height="21.25"/><rect x="456.24" y="288.50" width="1.6" height="3.10"/><rect x="458.48" y="292.25" width="1.6" height="5.00"/><rect x="462.95" y="294.40" width="1.6" height="22.50"/><rect x="465.19" y="316.90" width="1.6" height="14.35"/><rect x="471.89" y="305.00" width="1.6" height="7.50"/><rect x="474.13" y="305.60" width="1.6" height="10.65"/><rect x="487.55" y="251.90" width="1.6" height="12.20"/><rect x="489.79" y="262.90" width="1.6" height="13.10"/><rect x="492.02" y="268.50" width="1.6" height="16.90"/><rect x="496.49" y="271.00" width="1.6" height="18.75"/><rect x="500.97" y="287.90" width="1.6" height="11.50"/><rect x="509.91" y="286.00" width="1.6" height="3.75"/><rect x="518.86" y="272.25" width="1.6" height="6.85"/><rect x="521.09" y="272.90" width="1.6" height="12.10"/><rect x="527.80" y="268.50" width="1.6" height="8.75"/><rect x="534.51" y="256.60" width="1.6" height="16.30"/><rect x="536.75" y="273.50" width="1.6" height="14.00"/><rect x="543.46" y="271.60" width="1.6" height="17.80"/><rect x="547.93" y="281.90" width="1.6" height="6.85"/><rect x="550.17" y="289.40" width="1.6" height="13.70"/><rect x="552.40" y="303.10" width="1.6" height="8.80"/><rect x="559.11" y="306.90" width="1.6" height="17.50"/><rect x="563.58" y="321.90" width="1.6" height="8.70"/><rect x="574.77" y="305.60" width="1.6" height="5.00"/><rect x="577.00" y="311.90" width="1.6" height="12.50"/><rect x="579.24" y="324.75" width="1.6" height="14.35"/><rect x="581.47" y="334.75" width="1.6" height="15.00"/><rect x="583.71" y="347.90" width="1.6" height="4.35"/><rect x="585.95" y="352.25" width="1.6" height="1.25"/><rect x="594.89" y="325.40" width="1.6" height="5.60"/><rect x="597.13" y="330.40" width="1.6" height="9.35"/><rect x="606.07" y="319.75" width="1.6" height="2.50"/><rect x="610.55" y="312.25" width="1.6" height="1.25"/><rect x="612.78" y="312.90" width="1.6" height="5.00"/><rect x="615.02" y="317.90" width="1.6" height="1.20"/><rect x="619.49" y="309.10" width="1.6" height="16.90"/><rect x="621.73" y="325.40" width="1.6" height="20.00"/><rect x="626.20" y="334.75" width="1.6" height="8.75"/><rect x="630.67" y="336.60" width="1.6" height="1.90"/><rect x="639.62" y="311.00" width="1.6" height="5.00"/><rect x="644.09" y="306.00" width="1.6" height="10.00"/><rect x="650.80" y="302.90" width="1.6" height="1.85"/><rect x="653.04" y="301.60" width="1.6" height="8.80"/><rect x="659.75" y="306.00" width="1.6" height="9.40"/><rect x="661.98" y="311.60" width="1.6" height="11.30"/><rect x="666.46" y="317.25" width="1.6" height="11.25"/><rect x="668.69" y="327.90" width="1.6" height="5.60"/><rect x="670.93" y="331.90" width="1.6" height="12.50"/><rect x="679.87" y="317.50" width="1.6" height="5.60"/><rect x="684.35" y="311.25" width="1.6" height="4.35"/><rect x="686.58" y="315.00" width="1.6" height="2.25"/><rect x="688.82" y="317.25" width="1.6" height="1.25"/><rect x="691.06" y="318.10" width="1.6" height="2.50"/><rect x="693.29" y="320.60" width="1.6" height="9.40"/><rect x="697.76" y="324.40" width="1.6" height="7.60"/><rect x="700.00" y="330.00" width="1.6" height="12.50"/><rect x="706.71" y="328.75" width="1.6" height="3.75"/><rect x="720.13" y="309.40" width="1.6" height="16.20"/><rect x="722.36" y="323.75" width="1.6" height="6.25"/><rect x="724.60" y="328.75" width="1.6" height="5.00"/><rect x="729.07" y="328.10" width="1.6" height="10.90"/><rect x="731.31" y="337.50" width="1.6" height="16.50"/><rect x="733.55" y="353.60" width="1.6" height="16.15"/><rect x="738.02" y="369.20" width="1.6" height="9.40"/><rect x="746.96" y="362.00" width="1.6" height="2.50"/><rect x="749.20" y="364.50" width="1.6" height="1.10"/></g><line x1="29.5" y1="419.6" x2="796" y2="419.6" stroke="#b9bcc6" stroke-width="1.1"/><line x1="773.5" y1="45.3" x2="773.5" y2="431.3" stroke="#8b8e9b" stroke-width="1.15"/><g font-family="Liberation Sans, sans-serif" font-size="4.75" fill="#3f424c"><line x1="773.6" y1="55.40" x2="775.9" y2="55.40" stroke="#8e919d" stroke-width="0.9"/><text x="777.5" y="57.05">132.00</text><line x1="773.6" y1="75.16" x2="775.9" y2="75.16" stroke="#8e919d" stroke-width="0.9"/><text x="777.5" y="76.81">128.00</text><line x1="773.6" y1="94.91" x2="775.9" y2="94.91" stroke="#8e919d" stroke-width="0.9"/><text x="777.5" y="96.56">124.00</text><line x1="773.6" y1="114.67" x2="775.9" y2="114.67" stroke="#8e919d" stroke-width="0.9"/><text x="777.5" y="116.32">120.00</text><line x1="773.6" y1="134.42" x2="775.9" y2="134.42" stroke="#8e919d" stroke-width="0.9"/><text x="777.5" y="136.07">116.00</text><line x1="773.6" y1="154.18" x2="775.9" y2="154.18" stroke="#8e919d" stroke-width="0.9"/><text x="777.5" y="155.83">112.00</text><line x1="773.6" y1="173.94" x2="775.9" y2="173.94" stroke="#8e919d" stroke-width="0.9"/><text x="777.5" y="175.59">108.00</text><line x1="773.6" y1="193.69" x2="775.9" y2="193.69" stroke="#8e919d" stroke-width="0.9"/><text x="777.5" y="195.34">104.00</text><line x1="773.6" y1="213.45" x2="775.9" y2="213.45" stroke="#8e919d" stroke-width="0.9"/><text x="777.5" y="215.10">100.00</text><line x1="773.6" y1="233.20" x2="775.9" y2="233.20" stroke="#8e919d" stroke-width="0.9"/><text x="777.5" y="234.85">96.00</text><line x1="773.6" y1="252.96" x2="775.9" y2="252.96" stroke="#8e919d" stroke-width="0.9"/><text x="777.5" y="254.61">92.00</text><line x1="773.6" y1="272.72" x2="775.9" y2="272.72" stroke="#8e919d" stroke-width="0.9"/><text x="777.5" y="274.37">88.00</text><line x1="773.6" y1="292.47" x2="775.9" y2="292.47" stroke="#8e919d" stroke-width="0.9"/><text x="777.5" y="294.12">84.00</text><line x1="773.6" y1="312.23" x2="775.9" y2="312.23" stroke="#8e919d" stroke-width="0.9"/><text x="777.5" y="313.88">80.00</text><line x1="773.6" y1="331.98" x2="775.9" y2="331.98" stroke="#8e919d" stroke-width="0.9"/><text x="777.5" y="333.63">76.00</text><line x1="773.6" y1="351.74" x2="775.9" y2="351.74" stroke="#8e919d" stroke-width="0.9"/><text x="777.5" y="353.39">72.00</text><line x1="773.6" y1="371.50" x2="775.9" y2="371.50" stroke="#8e919d" stroke-width="0.9"/><text x="777.5" y="373.15">68.00</text><line x1="773.6" y1="391.25" x2="775.9" y2="391.25" stroke="#8e919d" stroke-width="0.9"/><text x="777.5" y="392.90">64.00</text><line x1="773.6" y1="411.01" x2="775.9" y2="411.01" stroke="#8e919d" stroke-width="0.9"/><text x="777.5" y="412.66">60.00</text></g><g font-family="Liberation Sans, Noto Sans CJK SC, sans-serif" font-size="5" fill="#4e515c"><line x1="44.3" y1="419.6" x2="44.3" y2="421.3" stroke="#8a8d99" stroke-width="0.6"/><text x="44.3" y="428.8" text-anchor="middle" font-weight="bold" fill="#333">2022</text><line x1="91.2" y1="419.6" x2="91.2" y2="421.3" stroke="#8a8d99" stroke-width="0.6"/><text x="91.2" y="428.8" text-anchor="middle">2月</text><line x1="136.0" y1="419.6" x2="136.0" y2="421.3" stroke="#8a8d99" stroke-width="0.6"/><text x="136.0" y="428.8" text-anchor="middle">3月</text><line x1="187.0" y1="419.6" x2="187.0" y2="421.3" stroke="#8a8d99" stroke-width="0.6"/><text x="187.0" y="428.8" text-anchor="middle">4月</text><line x1="231.3" y1="419.6" x2="231.3" y2="421.3" stroke="#8a8d99" stroke-width="0.6"/><text x="231.3" y="428.8" text-anchor="middle">5月</text><line x1="281.3" y1="419.6" x2="281.3" y2="421.3" stroke="#8a8d99" stroke-width="0.6"/><text x="281.3" y="428.8" text-anchor="middle">6月</text><line x1="330.0" y1="419.6" x2="330.0" y2="421.3" stroke="#8a8d99" stroke-width="0.6"/><text x="330.0" y="428.8" text-anchor="middle">7月</text><line x1="377.5" y1="419.6" x2="377.5" y2="421.3" stroke="#8a8d99" stroke-width="0.6"/><text x="377.5" y="428.8" text-anchor="middle">8月</text><line x1="428.5" y1="419.6" x2="428.5" y2="421.3" stroke="#8a8d99" stroke-width="0.6"/><text x="428.5" y="428.8" text-anchor="middle">9月</text><line x1="477.5" y1="419.6" x2="477.5" y2="421.3" stroke="#8a8d99" stroke-width="0.6"/><text x="477.5" y="428.8" text-anchor="middle">10月</text><line x1="524.3" y1="419.6" x2="524.3" y2="421.3" stroke="#8a8d99" stroke-width="0.6"/><text x="524.3" y="428.8" text-anchor="middle">11月</text><line x1="574.0" y1="419.6" x2="574.0" y2="421.3" stroke="#8a8d99" stroke-width="0.6"/><text x="574.0" y="428.8" text-anchor="middle">12月</text><line x1="620.3" y1="419.6" x2="620.3" y2="421.3" stroke="#8a8d99" stroke-width="0.6"/><text x="620.3" y="428.8" text-anchor="middle" font-weight="bold" fill="#333">2023</text><line x1="667.5" y1="419.6" x2="667.5" y2="421.3" stroke="#8a8d99" stroke-width="0.6"/><text x="667.5" y="428.8" text-anchor="middle">2月</text><line x1="712.5" y1="419.6" x2="712.5" y2="421.3" stroke="#8a8d99" stroke-width="0.6"/><text x="712.5" y="428.8" text-anchor="middle">3月</text><line x1="768.4" y1="419.6" x2="768.4" y2="421.3" stroke="#8a8d99" stroke-width="0.6"/><text x="771.6" y="428.8" text-anchor="end">4月</text></g><rect x="774.2" y="362.5" width="20" height="6.2" fill="#e3262e"/><text x="784.2" y="367.4" text-anchor="middle" font-family="Liberation Sans, sans-serif" font-size="5" fill="#fff">69.22</text><path d="M146.7 68.4V78.2M141.6 73.7l5.1 5.2 5.1-5.2" fill="none" stroke="#3079cc" stroke-width="2.9" stroke-linecap="round" stroke-linejoin="round"/><text x="160.6" y="77.0" font-family="Liberation Sans, Noto Sans CJK SC, sans-serif" font-size="9" fill="#3d7fd6" letter-spacing="0.12"><tspan letter-spacing="0.6">2022</tspan>年<tspan letter-spacing="0.6">3</tspan>月<tspan letter-spacing="0.6">8</tspan>日，最高点：<tspan letter-spacing="0.6">$126</tspan></text><g stroke="#50535e" fill="none"><circle cx="784.6" cy="426.4" r="2.5" stroke-width="0.9"/><g stroke-width="1.1" stroke-linecap="round"><line x1="786.72" y1="427.28" x2="787.83" y2="427.74"/><line x1="785.48" y1="428.52" x2="785.94" y2="429.63"/><line x1="783.72" y1="428.52" x2="783.26" y2="429.63"/><line x1="782.48" y1="427.28" x2="781.37" y2="427.74"/><line x1="782.48" y1="425.52" x2="781.37" y2="425.06"/><line x1="783.72" y1="424.28" x2="783.26" y2="423.17"/><line x1="785.48" y1="424.28" x2="785.94" y2="423.17"/><line x1="786.72" y1="425.52" x2="787.83" y2="425.06"/></g></g></svg>
<div class="abs topband"></div>
<div class="abs title">美国原油</div>
<div class="abs caret"></div>
<div class="abs sq" style="left:59.1px">
  <svg width="10" height="10" viewBox="0 0 10 10" style="position:absolute;left:0px;top:0px"><path d="M5 1.3l1.2 2.5 2.75.3-2.05 1.85.6 2.7L5 7.3 2.5 8.65l.6-2.7L1.05 4.1l2.75-.3z" fill="#9b9eae"/></svg>
</div>
<div class="abs sq" style="left:75.2px">
  <svg width="10" height="10" viewBox="0 0 10 10" style="position:absolute;left:0.1px;top:0px"><path d="M5 1.5c-1.6 0-2.5 1.2-2.5 2.7v1.9l-.9 1.1h6.8l-.9-1.1V4.2C7.5 2.7 6.6 1.5 5 1.5zM4.1 7.6a.9.9 0 0 0 1.8 0z" fill="#a2a5b3"/></svg>
</div>
<div class="abs chg" style="left:93.5px">-0.23</div>
<div class="abs chg" style="left:113.8px">-0.33%</div>

<div class="abs panel"></div>
<div class="abs btn" style="left:679.9px;width:53px">卖出 69.22</div>
<div class="abs btn" style="left:738.3px;width:52.5px">买入 69.35</div>
<div class="abs grip">
  <svg width="7" height="19" viewBox="0 0 7 19"><g fill="#b5b9c4"><rect x="1" y="2" width="1" height="1"/><rect x="3" y="2" width="1" height="1"/><rect x="5" y="2" width="1" height="1"/><rect x="1" y="4.5" width="1" height="1"/><rect x="3" y="4.5" width="1" height="1"/><rect x="5" y="4.5" width="1" height="1"/><rect x="1" y="7" width="1" height="1"/><rect x="3" y="7" width="1" height="1"/><rect x="5" y="7" width="1" height="1"/><rect x="1" y="9.5" width="1" height="1"/><rect x="3" y="9.5" width="1" height="1"/><rect x="5" y="9.5" width="1" height="1"/><rect x="1" y="12" width="1" height="1"/><rect x="3" y="12" width="1" height="1"/><rect x="5" y="12" width="1" height="1"/><rect x="1" y="14.5" width="1" height="1"/><rect x="3" y="14.5" width="1" height="1"/><rect x="5" y="14.5" width="1" height="1"/></g></svg>
</div>

<div class="abs frame-top"></div>
<div class="abs frame-left"></div>
<div class="abs lt-right"></div>
<div class="abs row-sep"></div>

<!-- interval bar -->
<div class="abs iv" style="left:30.5px">1分</div>
<div class="abs iv" style="left:45.5px">5分</div>
<div class="abs iv" style="left:61px">15分</div>
<div class="abs iv" style="left:79.5px">30分</div>
<div class="abs iv" style="left:98px">1小时</div>
<div class="abs iv" style="left:118.5px">2小时</div>
<div class="abs iv" style="left:140px">4小时</div>
<div class="abs iv" style="left:162.3px;color:#2f80ed">日</div>
<div class="abs iv" style="left:173.7px">周</div>
<div class="abs iv" style="left:185.8px">月</div>
<svg class="abs" style="left:198px;top:35.2px" width="5" height="3" viewBox="0 0 5 3"><path d="M0.5 0.9L2.3 1.9 4.1 0.9" fill="none" stroke="#6a6d78" stroke-width="0.65"/></svg>
<svg class="abs" style="left:210px;top:31.5px" width="8" height="10" viewBox="0 0 8 10"><g fill="none" stroke="#50535e" stroke-width="0.7"><path d="M1.6 0.6v8.8"/><rect x="0.9" y="1.8" width="1.4" height="6" fill="#50535e"/><path d="M5.4 1.6v7.4"/><rect x="4.5" y="3" width="1.9" height="4.4" rx="0.7" fill="#fff"/></g></svg>
<svg class="abs" style="left:225.5px;top:31px" width="14" height="12" viewBox="0 0 14 12"><g fill="none" stroke="#50535e" stroke-width="0.85"><path d="M0.8 6.2 3.5 3.2 7 6.6 9.5 4.8"/><path d="M10.4 6.8v4.2M8.3 8.9h4.2"/></g></svg>
<div class="abs iv" style="left:238.4px">指标</div>
<svg class="abs" style="left:260.2px;top:31.8px" width="10" height="10" viewBox="0.3 0.3 10.4 10.4">
  <path d="M5.5 0.9l1.1.2.3 1.3 1 .5 1.2-.6.8.8-.6 1.2.5 1 1.3.3v1.2l-1.3.3-.5 1 .6 1.2-.8.8-1.2-.6-1 .5-.3 1.3H4.9l-.3-1.3-1-.5-1.2.6-.8-.8.6-1.2-.5-1-1.3-.3V4.9l1.3-.3.5-1-.6-1.2.8-.8 1.2.6 1-.5.3-1.3z" fill="none" stroke="#50535e" stroke-width="0.75" stroke-linejoin="round"/>
  <circle cx="5.5" cy="5.5" r="1.6" fill="none" stroke="#50535e" stroke-width="0.75"/>
</svg>

<!-- legend row -->
<svg class="abs" style="left:31.8px;top:51.9px" width="5" height="5" viewBox="0 0 5 5"><rect x="0.35" y="0.35" width="4.3" height="3.9" rx="0.5" fill="none" stroke="#8a8d97" stroke-width="0.6"/><path d="M2.5 0.4v3.8M0.4 2.3h4.2" stroke="#8a8d97" stroke-width="0.5"/></svg>
<div class="abs legend" style="left:42.8px">USOIL, 1日</div>
<svg class="abs" style="left:79.5px;top:53.2px" width="4" height="3" viewBox="0 0 4 3"><path d="M0.4 0.6L2 2.2 3.6 0.6" fill="none" stroke="#50535e" stroke-width="0.65"/></svg>
<div class="abs legend lg" style="left:95.6px">开=<span class="red">69.49</span></div>
<div class="abs legend lg" style="left:128.7px">高=<span class="red">70.38</span></div>
<div class="abs legend lg" style="left:162.2px">低=<span class="red">66.85</span></div>
<div class="abs legend lg" style="left:196px">收=<span class="red">69.22</span></div>
<div class="abs legend lg red" style="left:229.2px">−0.23</div>
<div class="abs legend lg red" style="left:249.2px">(−0.33%)</div>

<!-- left toolbar -->
<svg class="abs" style="left:6px;top:27px" width="23" height="406" viewBox="0 0 23 406">
  <g fill="none" stroke="#2a2e39" stroke-width="0.8" stroke-linecap="round" stroke-linejoin="round">
    <!-- crosshair (blue) -->
    <g stroke="#45a0f0" stroke-width="0.9" stroke-linecap="butt"><path d="M11.6 6.9v3.2M11.6 14.2v3.2M7 12.2h3.2M13.1 12.2h3.2"/></g>
    <!-- line tool -->
    <path d="M7.6 32.2l7.2-7.6"/><circle cx="7.2" cy="32.6" r="0.9" fill="#2a2e39"/><circle cx="15.2" cy="24.2" r="0.9"/>
    <!-- pitchfork -->
    <path d="M7.5 43L11.4 39.3M10.2 45.9L14.4 41.9M12.8 48.6L16.8 44.6M7.5 43L12.8 48.6M7.5 47.9L10.2 45.9" stroke-width="0.7"/><circle cx="7.5" cy="43" r="0.85" fill="#2a2e39" stroke="none"/><circle cx="7.5" cy="47.9" r="0.85" fill="#2a2e39" stroke="none"/><circle cx="12.8" cy="48.6" r="0.85" fill="#2a2e39" stroke="none"/>
    <!-- brush -->
    <path d="M7.3 64.5Q8.5 60.5 11.8 59.6L13.6 61.4Q12.6 64.5 7.3 64.5Z M12.7 60.5L17.4 57.1M10.9 58.7L12.2 57.4" stroke-width="0.7"/>
    <!-- T -->
    <path d="M8.6 73.5h5.9M11.55 73.5v7.6M10.4 81.1h2.3"/>
    <!-- pattern -->
    <path d="M7.6 96.8L8.9 88.7 16.2 95.6 14.5 88.8 9.6 94.2 7.6 96.8"/><circle cx="8.9" cy="88.7" r="0.8" fill="#fff"/><circle cx="14.5" cy="88.8" r="0.8" fill="#fff"/><circle cx="16.2" cy="95.6" r="0.8" fill="#fff"/><circle cx="7.4" cy="97" r="1" fill="#2a2e39"/>
    <!-- fib / ruler-lines -->
    <path d="M8.1 105h8.5M8.1 110.5h7.6M8.1 113.6h8.5M11.7 107.3v6.3"/><circle cx="7.3" cy="105" r="0.8" fill="#fff"/><circle cx="7.3" cy="110.5" r="0.8" fill="#fff"/><circle cx="16.6" cy="110.5" r="0.8" fill="#fff"/><circle cx="7.3" cy="113.6" r="0.8" fill="#fff"/>
    <!-- arrow left bold -->
    <path d="M15.3 126.2H8.2M11 123.3l-3 2.9 3 2.9" stroke-width="1.5"/>
    <!-- ruler -->
    <path d="M6.6 151.4l6.9-7 2.4 2.4-6.9 7z M9 149.3l1 1M10.6 147.7l1 1M12.2 146.1l1 1"/>
    <!-- zoom out -->
    <circle cx="10.9" cy="163.3" r="3.1"/><path d="M9.5 163.3h2.8M13.2 165.6l1.9 1.9"/>
    <!-- magnet -->
    <path d="M8.1 190.8v-3.5a3.4 3.4 0 0 1 6.8 0v3.5M9.8 190.8v-3.5a1.7 1.7 0 0 1 3.4 0v3.5M8.1 190.8h1.7M13.2 190.8h1.7"/>
    <!-- pencil with lock -->
    <path d="M7 204.2l5.2-5.2 1.5 1.5-5.2 5.2-1.9.4z"/><rect x="12.3" y="203.4" width="3.4" height="2.8" rx="0.3"/><path d="M13 203.4v-.8a1 1 0 0 1 2 0"/>
    <!-- lock open -->
    <rect x="8.7" y="217.6" width="5.8" height="4.8" rx="0.6"/><path d="M9.9 217.6v-1.9a1.6 1.6 0 0 1 3.1-.5"/><path d="M11.6 219.2v1.4" stroke-width="1"/>
    <!-- eye -->
    <path d="M6.9 235c1.4-2.1 3-3.1 4.6-3.1s3.2 1 4.6 3.1c-1.4 2.1-3 3.1-4.6 3.1S8.3 237.1 6.9 235z"/><circle cx="11.5" cy="235" r="1.3" fill="#2a2e39"/>
    <!-- trash -->
    <rect x="8.8" y="254" width="5.4" height="7.2" rx="0.7"/><path d="M8.2 253.2h6.6M10.3 255.8v4M12.7 255.8v4"/>
    <!-- layers -->
    <path d="M11.5 384.3l4 3.6-4 3.6-4-3.6z"/><path d="M7.8 389.5l3.7 3.4 3.7-3.4" /><path d="M8.6 391.2l2.9 2.7 2.9-2.7"/>
  </g>
</svg>
<div class="abs sep" style="top:164px"></div>
<div class="abs sep" style="top:202.4px"></div>
<div class="abs sep" style="top:274px"></div>
<!-- collapse handle -->
<div class="abs" style="left:26.5px;top:395.2px;width:3.6px;height:11.5px;border:0.6px solid #d6d9e0;border-radius:2px;background:#fff"></div>
<svg class="abs" style="left:27px;top:399px" width="3" height="4" viewBox="0 0 3 4"><path d="M2 0.6L1 2 2 3.4" fill="none" stroke="#9fb4d6" stroke-width="0.5"/></svg>
</body>
</html>
